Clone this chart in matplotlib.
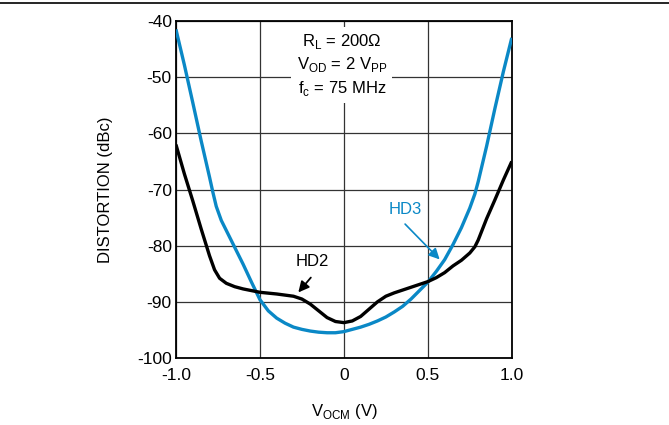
import numpy as np
import matplotlib
matplotlib.use('Agg')
import matplotlib.pyplot as plt
from matplotlib.lines import Line2D

plt.rcParams['font.family'] = ['Liberation Sans', 'DejaVu Sans']
plt.rcParams['mathtext.fontset'] = 'custom'
plt.rcParams['mathtext.rm'] = 'Liberation Sans'
plt.rcParams['axes.unicode_minus'] = False

# values
hd2_x = [-1.0, -0.95, -0.9, -0.85, -0.8, -0.77, -0.74, -0.7, -0.65, -0.6, -0.55, -0.5,
         -0.4, -0.3, -0.25, -0.2, -0.15, -0.1, -0.05, 0.0, 0.05, 0.1, 0.15, 0.2, 0.25,
         0.3, 0.35, 0.4, 0.45, 0.5, 0.55, 0.6, 0.65, 0.7, 0.75, 0.78, 0.8, 0.85, 0.9,
         0.95, 1.0]
hd2_y = [-62.0, -67.2, -72.0, -77.0, -81.8, -84.3, -85.8, -86.7, -87.3, -87.7, -88.0, -88.3,
         -88.6, -89.0, -89.5, -90.4, -91.6, -92.8, -93.5, -93.7, -93.4, -92.6, -91.3, -90.0, -89.0,
         -88.4, -87.9, -87.4, -86.9, -86.4, -85.7, -84.8, -83.6, -82.6, -81.3, -80.2, -79.0, -75.2, -71.8,
         -68.3, -65.0]

hd3_x = [-1.0, -0.95, -0.9, -0.85, -0.8, -0.78, -0.76, -0.73, -0.7, -0.65, -0.6, -0.55,
         -0.5, -0.45, -0.4, -0.35, -0.3, -0.25, -0.2, -0.15, -0.1, -0.05, 0.0, 0.05, 0.1,
         0.15, 0.2, 0.25, 0.3, 0.35, 0.4, 0.45, 0.5, 0.55, 0.6, 0.65, 0.7, 0.75, 0.78,
         0.8, 0.85, 0.9, 0.95, 1.0]
hd3_y = [-41.5, -47.8, -54.5, -61.3, -67.8, -70.5, -73.0, -75.5, -77.3, -80.3, -83.3, -86.5,
         -89.6, -91.6, -92.9, -93.8, -94.5, -94.9, -95.2, -95.4, -95.5, -95.5, -95.3, -94.9, -94.5,
         -94.0, -93.4, -92.7, -91.8, -90.8, -89.5, -88.0, -86.5, -84.6, -82.5, -79.8, -76.8, -73.3, -70.8,
         -68.6, -62.3, -55.5, -49.0, -43.0]

x_ticks = [-1.0, -0.5, 0, 0.5, 1.0]
x_labels = ['-1.0', '-0.5', '0', '0.5', '1.0']
y_ticks = [-100, -90, -80, -70, -60, -50, -40]

black = '#000000'
blue = '#0a88c6'

fig = plt.figure(figsize=(6.69, 4.25), dpi=100)
ax = fig.add_axes([0.263, 0.1576, 0.502, 0.793])

ax.plot(hd3_x, hd3_y, color=blue, lw=2.4, zorder=4, solid_capstyle='butt')
ax.plot(hd2_x, hd2_y, color=black, lw=2.4, zorder=5, solid_capstyle='butt')

ax.set_xlim(-1.0, 1.0)
ax.set_ylim(-100, -40)
ax.set_xticks(x_ticks)
ax.set_xticklabels(x_labels)
ax.set_yticks(y_ticks)
ax.tick_params(length=0, labelsize=12.5, colors='black')
ax.tick_params(axis='x', pad=7)
ax.tick_params(axis='y', pad=3)
ax.grid(True, color='#333333', lw=0.9)
ax.set_axisbelow(True)
for s in ax.spines.values():
    s.set_linewidth(1.3)

ax.set_xlabel(r'V$_\mathregular{OCM}$ (V)', fontsize=12, labelpad=14)
ax.set_ylabel('DISTORTION (dBc)', fontsize=12, labelpad=17)

# condition text with white box over the grid
ax.text(-0.012, -47.8,
        'R$_\\mathregular{L}$ = 200\u03a9\nV$_\\mathregular{OD}$ = 2 V$_\\mathregular{PP}$\nf$_\\mathregular{c}$ = 75 MHz',
        ha='center', va='center', fontsize=12, linespacing=1.3, zorder=3,
        bbox=dict(facecolor='white', edgecolor='none', pad=4))

# curve labels
ax.text(-0.185, -82.9, 'HD2', ha='center', va='center', fontsize=12, color=black, zorder=6)
ax.annotate('', xy=(-0.282, -88.7), xytext=(-0.186, -85.3),
            arrowprops=dict(arrowstyle='-|>', color=black, lw=1.3, mutation_scale=16), zorder=6)
ax.text(0.363, -73.6, 'HD3', ha='center', va='center', fontsize=12, color=blue, zorder=6)
ax.annotate('', xy=(0.582, -82.8), xytext=(0.353, -75.8),
            arrowprops=dict(arrowstyle='-|>', color=blue, lw=1.2, mutation_scale=16), zorder=6)

# rule across the top of the page
fig.add_artist(Line2D([0, 1], [1 - 3 / 425, 1 - 3 / 425], color='black', lw=1.2))

fig.savefig('out.png', dpi=100)
